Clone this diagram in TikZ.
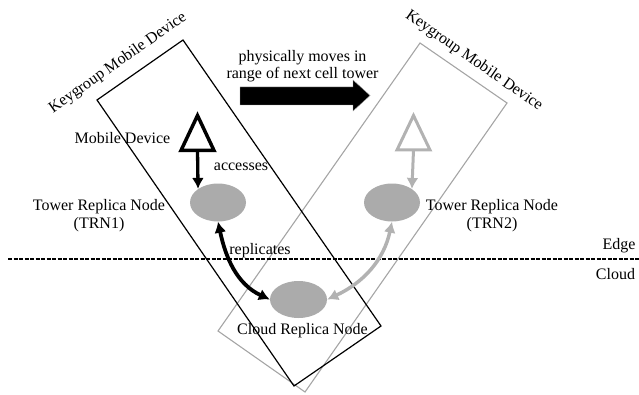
\documentclass[tikz,border=0pt]{standalone}
\usepackage{fontspec}
\setmainfont{Liberation Serif}
\usepackage{tikz}
\usetikzlibrary{shapes,arrows.meta,positioning,calc}
\usepackage{xcolor}
\definecolor{replgray}{RGB}{171,171,171}
\definecolor{movegray}{RGB}{178,178,178}
\definecolor{boxgray}{RGB}{165,165,165}

\begin{document}
\begin{tikzpicture}[x=10pt, y=10pt,
    every node/.style={font=\fontsize{16}{17.5}\selectfont},
    replica/.style={ellipse, fill=replgray, minimum width=56pt, minimum height=38pt, inner sep=0pt},
    devtri/.style={line width=3.5pt, line join=miter},
    access/.style={line width=3.3pt, -{Latex[length=11pt,width=12pt]}},
    repl/.style={line width=3.8pt, {Latex[length=11pt,width=12pt]}-{Latex[length=11pt,width=12pt]}}]
    \useasboundingbox (0,0) rectangle (63.9,39.4);

    % Keygroups
    \draw[line width=1.1pt, boxgray] (42.0,35.1) -- (50.7,29.1) -- (30.5,0.2) -- (21.8,6.3) -- cycle;
    \draw[line width=1.2pt] (18.3,35.4) -- (38.1,6.8) -- (29.4,0.8) -- (9.7,29.4) -- cycle;
    \node[rotate=35] (KG1) at (11.8,33.1) {Keygroup Mobile Device};
    \node[rotate=-35] (KG2) at (47.4,33.3) {Keygroup Mobile Device};

    % Edge / Cloud
    \draw[line width=1.2pt, dash pattern=on 4pt off 1.5pt] (0.8,13.5) -- (63.9,13.5);
    \node (Edge) at (61.9,14.8) {Edge};
    \node (Cloud) at (61.55,11.95) {Cloud};

    % Movement
    \node[align=center] (Move) at (30.25,32.8) {physically moves in\\range of next cell tower};
    \filldraw[fill=black, draw=black!40, line width=0.4pt] (24.0,30.7) -- (35.3,30.7) -- (35.3,31.4) -- (37.0,29.85)
        -- (35.3,28.3) -- (35.3,28.9) -- (24.0,28.9) -- cycle;

    % Replica nodes
    \node[replica] (TRN1) at (21.8,19.15) {};
    \node[replica] (TRN2) at (39.2,19.15) {};
    \node[replica, minimum width=57pt, minimum height=37pt] (CRN) at (29.85,9.45) {};
    \node[align=center] (TRN1label) at (9.9,17.85) {Tower Replica Node\\(TRN1)};
    \node[align=center] (TRN2label) at (49.2,17.85) {Tower Replica Node\\(TRN2)};
    \node (CRNlabel) at (30.25,6.3) {Cloud Replica Node};

    % Mobile device before
    \draw[devtri] (19.75,27.85) -- (21.4,24.35) -- (18.1,24.35) -- cycle;
    \coordinate (MD1) at (19.75,24.35);
    \node (MDlabel) at (12.25,25.6) {Mobile Device};
    \draw[access] (MD1) -- (TRN1.north west);
    \node (acc) at (24.1,22.75) {accesses};

    % Mobile device after
    \draw[devtri, movegray, line width=3pt] (41.35,27.85) -- (43.0,24.4) -- (39.7,24.4) -- cycle;
    \coordinate (MD2) at (41.35,24.4);
    \draw[access, movegray, line width=3pt] (MD2) -- (TRN2.north east);

    % Replication
    \draw[repl] (TRN1.south) to[out=-78, in=155] (CRN.west);
    \node (rep) at (26.0,14.3) {replicates};
    \draw[repl, movegray, line width=3.5pt] (TRN2.south) to[out=-102, in=25] (CRN.east);
\end{tikzpicture}
\end{document}
